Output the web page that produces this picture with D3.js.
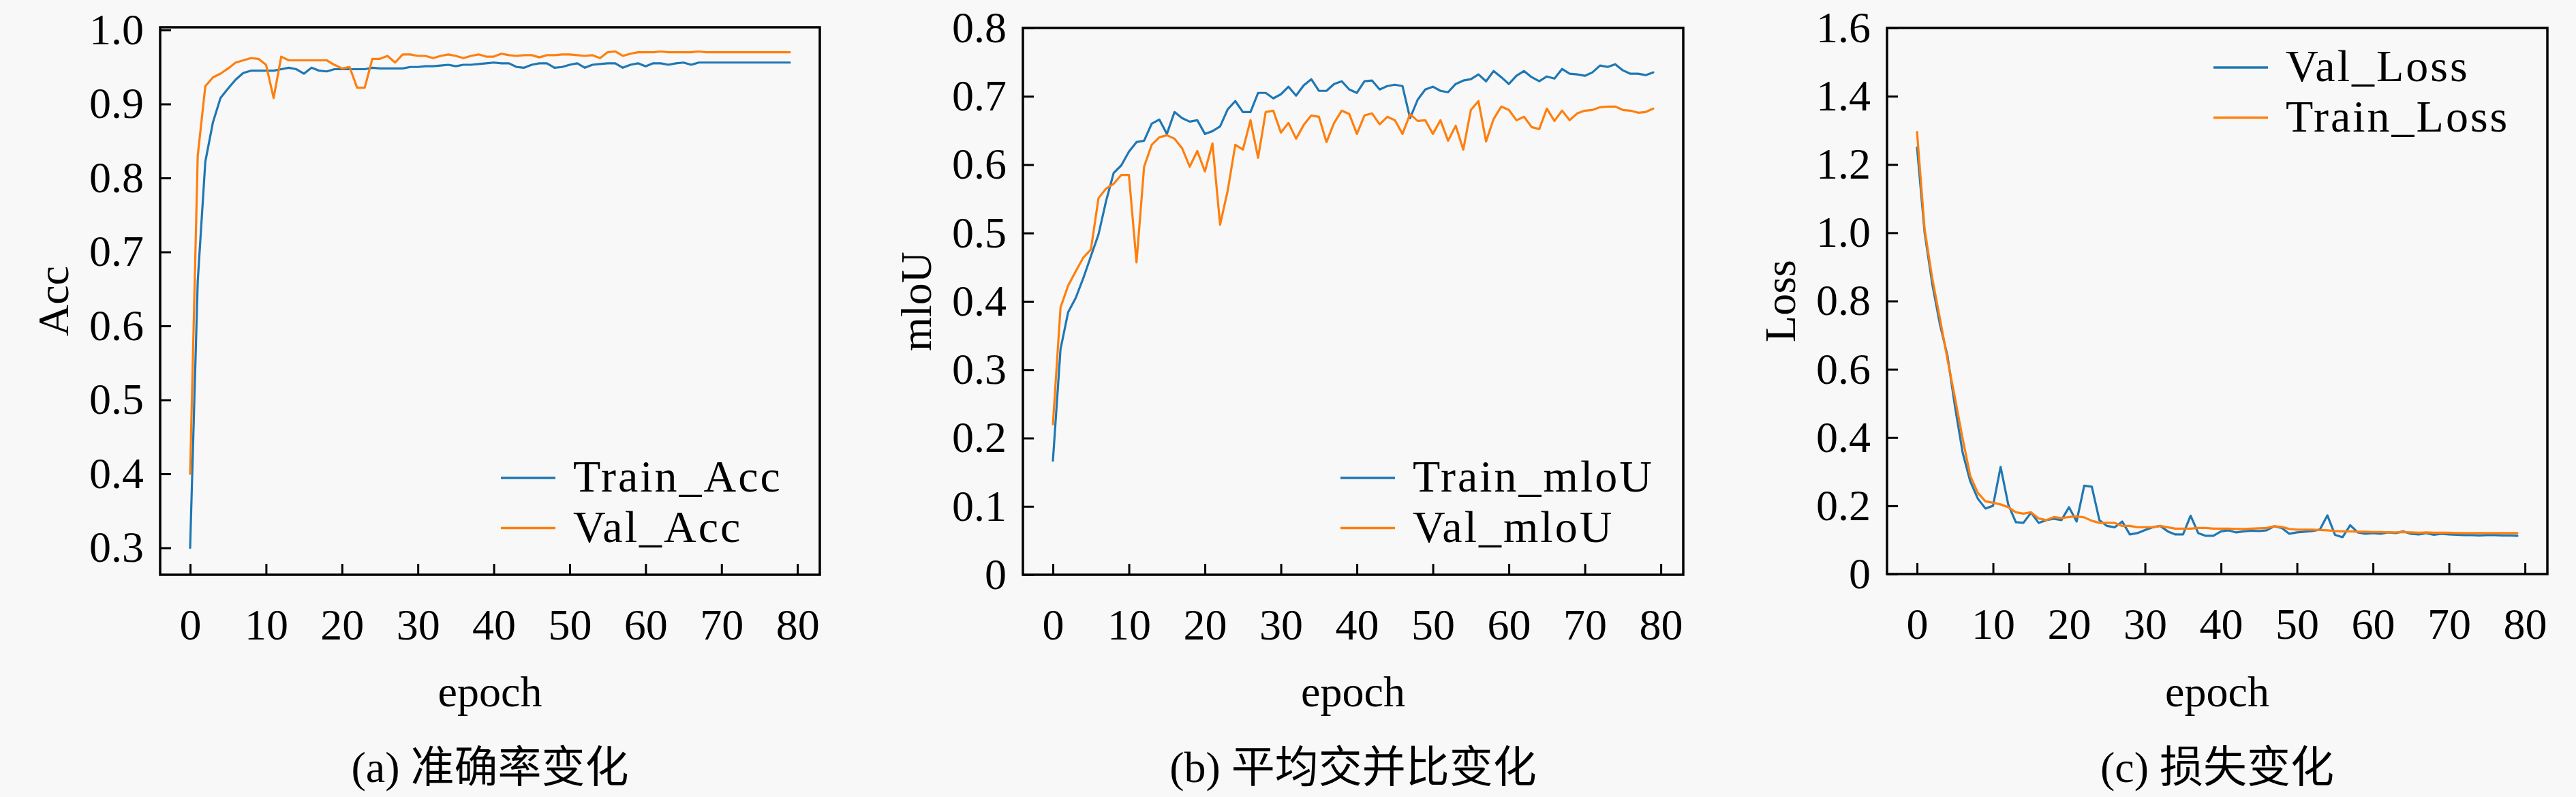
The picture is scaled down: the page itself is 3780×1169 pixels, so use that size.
<!DOCTYPE html>
<html>
<head>
<meta charset="utf-8">
<script src="https://cdn.jsdelivr.net/npm/d3@7"></script>
<style>
  body { margin: 0; background: #f8f8f8; }
  svg { display: block; background: #f8f8f8; }
  text { font-family: "Liberation Serif", "Noto Sans CJK SC", serif; fill: #000; }
</style>
</head>
<body>
<svg id="figure"></svg>
<script>
// epochs 0..79
const epochs = d3.range(0, 80);
const xTicks = [0, 10, 20, 30, 40, 50, 60, 70, 80];

const accTicks = [0.3, 0.4, 0.5, 0.6, 0.7, 0.8, 0.9, 1.0];
const miouTicks = [0, 0.1, 0.2, 0.3, 0.4, 0.5, 0.6, 0.7, 0.8];
const lossTicks = [0, 0.2, 0.4, 0.6, 0.8, 1.0, 1.2, 1.4, 1.6];

const trainAcc = [
  0.300, 0.660, 0.822, 0.875, 0.908, 0.921, 0.933, 0.942, 0.945, 0.945,
  0.945, 0.945, 0.947, 0.949, 0.947, 0.941, 0.949, 0.945, 0.944, 0.947,
  0.947, 0.947, 0.947, 0.947, 0.949, 0.948, 0.948, 0.948, 0.948, 0.950,
  0.950, 0.951, 0.951, 0.952, 0.953, 0.951, 0.953, 0.953, 0.954, 0.955,
  0.956, 0.955, 0.955, 0.950, 0.949, 0.953, 0.955, 0.955, 0.949, 0.950,
  0.953, 0.955, 0.949, 0.953, 0.954, 0.955, 0.955, 0.949, 0.953, 0.955,
  0.951, 0.955, 0.955, 0.953, 0.955, 0.956, 0.953, 0.956, 0.956, 0.956,
  0.956, 0.956, 0.956, 0.956, 0.956, 0.956, 0.956, 0.956, 0.956, 0.956
];
const valAcc = [
  0.400, 0.830, 0.924, 0.936, 0.941, 0.948, 0.956, 0.959, 0.962, 0.961,
  0.953, 0.908, 0.964, 0.959, 0.959, 0.959, 0.959, 0.959, 0.959, 0.953,
  0.948, 0.950, 0.922, 0.922, 0.961, 0.961, 0.965, 0.956, 0.967, 0.967,
  0.965, 0.965, 0.962, 0.965, 0.967, 0.965, 0.962, 0.965, 0.967, 0.964,
  0.964, 0.968, 0.966, 0.965, 0.966, 0.966, 0.963, 0.966, 0.966, 0.967,
  0.967, 0.966, 0.965, 0.966, 0.962, 0.970, 0.971, 0.965, 0.968, 0.970,
  0.970, 0.970, 0.971, 0.970, 0.970, 0.970, 0.970, 0.971, 0.970, 0.970,
  0.970, 0.970, 0.970, 0.970, 0.970, 0.970, 0.970, 0.970, 0.970, 0.970
];

const trainMiou = [
  0.167, 0.330, 0.384, 0.405, 0.434, 0.466, 0.498, 0.547, 0.588, 0.599,
  0.619, 0.633, 0.635, 0.660, 0.666, 0.645, 0.677, 0.668, 0.663, 0.665,
  0.645, 0.649, 0.656, 0.681, 0.693, 0.677, 0.677, 0.705, 0.705, 0.697,
  0.703, 0.714, 0.701, 0.716, 0.725, 0.708, 0.708, 0.718, 0.722, 0.710,
  0.705, 0.722, 0.723, 0.710, 0.715, 0.717, 0.715, 0.668, 0.695, 0.710,
  0.714, 0.708, 0.706, 0.718, 0.723, 0.725, 0.732, 0.722, 0.737, 0.728,
  0.718, 0.730, 0.737, 0.728, 0.722, 0.729, 0.726, 0.740, 0.733, 0.732,
  0.730, 0.735, 0.745, 0.743, 0.747, 0.738, 0.733, 0.733, 0.731, 0.735
];
const valMiou = [
  0.220, 0.391, 0.423, 0.444, 0.464, 0.476, 0.551, 0.565, 0.572, 0.585,
  0.585, 0.457, 0.597, 0.629, 0.640, 0.643, 0.638, 0.624, 0.597, 0.620,
  0.590, 0.631, 0.512, 0.562, 0.629, 0.622, 0.665, 0.610, 0.677, 0.679,
  0.647, 0.661, 0.638, 0.658, 0.672, 0.670, 0.633, 0.661, 0.679, 0.674,
  0.645, 0.672, 0.675, 0.659, 0.670, 0.665, 0.645, 0.674, 0.664, 0.665,
  0.645, 0.665, 0.635, 0.657, 0.622, 0.680, 0.693, 0.634, 0.667, 0.685,
  0.680, 0.665, 0.670, 0.655, 0.652, 0.682, 0.664, 0.679, 0.665, 0.675,
  0.679, 0.680, 0.684, 0.685, 0.685, 0.680, 0.679, 0.676, 0.677, 0.682
];

const valLoss = [
  1.250, 1.000, 0.850, 0.733, 0.640, 0.490, 0.356, 0.272, 0.221, 0.192,
  0.200, 0.314, 0.204, 0.152, 0.150, 0.180, 0.150, 0.158, 0.162, 0.158,
  0.196, 0.154, 0.259, 0.256, 0.158, 0.141, 0.137, 0.154, 0.116, 0.120,
  0.129, 0.137, 0.141, 0.125, 0.116, 0.116, 0.171, 0.120, 0.112, 0.112,
  0.125, 0.128, 0.122, 0.125, 0.127, 0.126, 0.128, 0.140, 0.135, 0.118,
  0.122, 0.124, 0.126, 0.130, 0.172, 0.115, 0.108, 0.143, 0.122, 0.118,
  0.120, 0.118, 0.122, 0.120, 0.125, 0.118, 0.116, 0.120, 0.115, 0.118,
  0.116, 0.115, 0.114, 0.114, 0.113, 0.114, 0.114, 0.113, 0.113, 0.112
];
const trainLoss = [
  1.295, 1.010, 0.867, 0.750, 0.630, 0.515, 0.397, 0.288, 0.238, 0.213,
  0.209, 0.204, 0.196, 0.181, 0.177, 0.181, 0.163, 0.158, 0.167, 0.164,
  0.167, 0.169, 0.166, 0.156, 0.150, 0.150, 0.150, 0.141, 0.141, 0.137,
  0.137, 0.137, 0.141, 0.137, 0.133, 0.133, 0.133, 0.135, 0.135, 0.133,
  0.133, 0.133, 0.132, 0.132, 0.133, 0.134, 0.135, 0.140, 0.138, 0.132,
  0.130, 0.130, 0.130, 0.129, 0.128, 0.126, 0.125, 0.125, 0.124, 0.124,
  0.123, 0.123, 0.122, 0.122, 0.123, 0.122, 0.121, 0.122, 0.121, 0.121,
  0.121, 0.120, 0.120, 0.120, 0.120, 0.120, 0.120, 0.120, 0.120, 0.120
];

const BLUE = '#1f77b4';
const ORANGE = '#ff7f0e';

const svg = d3.select('#figure')
  .attr('width', 3780)
  .attr('height', 1169);

class LineChart {

  constructor(_config, _series) {
    this.config = {
      left: _config.left,
      top: _config.top,
      width: _config.width,
      height: _config.height,
      yDomain: _config.yDomain,
      yTicks: _config.yTicks,
      yLabel: _config.yLabel,
      caption: _config.caption,
      legend: _config.legend
    };
    this.series = _series;
    this.initVis();
  }

  initVis() {
    let vis = this;
    const c = vis.config;

    vis.chartArea = svg.append('g')
      .attr('transform', `translate(${c.left},${c.top})`);

    // Scales (x gets matplotlib's 5% margin around 0..79)
    vis.xScale = d3.scaleLinear()
      .domain([-3.95, 82.95])
      .range([0, c.width]);

    vis.yScale = d3.scaleLinear()
      .domain(c.yDomain)
      .range([c.height, 0]);

    // Axes with inward ticks
    vis.xAxis = d3.axisBottom(vis.xScale)
      .tickValues(xTicks)
      .tickSizeInner(-16)
      .tickSizeOuter(0)
      .tickPadding(50);

    vis.yAxis = d3.axisLeft(vis.yScale)
      .tickValues(c.yTicks)
      .tickFormat(d => d === 0 ? '0' : d3.format('.1f')(d))
      .tickSizeInner(-16)
      .tickSizeOuter(0)
      .tickPadding(24);

    vis.xAxisG = vis.chartArea.append('g')
      .attr('class', 'axis x-axis')
      .attr('transform', `translate(0,${c.height})`);

    vis.yAxisG = vis.chartArea.append('g')
      .attr('class', 'axis y-axis');

    // Axis titles
    vis.chartArea.append('text')
      .attr('transform', `translate(-157,${c.height / 2}) rotate(-90)`)
      .attr('text-anchor', 'middle')
      .attr('dominant-baseline', 'central')
      .style('font-size', '64px')
      .text(c.yLabel);

    vis.chartArea.append('text')
      .attr('x', c.width / 2)
      .attr('y', 1036 - c.top)
      .attr('text-anchor', 'middle')
      .style('font-size', '64px')
      .text('epoch');

    // Sub-figure caption
    vis.chartArea.append('text')
      .attr('x', c.width / 2)
      .attr('y', 1147 - c.top)
      .attr('text-anchor', 'middle')
      .style('font-size', '64px')
      .text(c.caption);

    vis.line = d3.line()
      .x((d, i) => vis.xScale(epochs[i]))
      .y(d => vis.yScale(d));

    vis.renderVis();
  }

  renderVis() {
    let vis = this;
    const c = vis.config;

    vis.xAxisG.call(vis.xAxis);
    vis.yAxisG.call(vis.yAxis);

    vis.chartArea.selectAll('.axis')
      .attr('font-size', 64)
      .attr('font-family', null);
    vis.chartArea.selectAll('.axis .domain').remove();
    vis.chartArea.selectAll('.axis line')
      .attr('stroke', '#000')
      .attr('stroke-width', 3);

    // Series lines
    vis.chartArea.selectAll('.series')
      .data(vis.series)
      .join('path')
      .attr('class', 'series')
      .attr('fill', 'none')
      .attr('stroke', d => d.color)
      .attr('stroke-width', 3.2)
      .attr('stroke-linejoin', 'round')
      .attr('stroke-linecap', 'round')
      .attr('d', d => vis.line(d.values));

    // Frame
    vis.chartArea.append('rect')
      .attr('width', c.width)
      .attr('height', c.height)
      .attr('fill', 'none')
      .attr('stroke', '#000')
      .attr('stroke-width', 3.5);

    // Legend
    const legend = vis.chartArea.append('g')
      .attr('transform', `translate(${c.legend.x},${c.legend.y})`);

    const items = legend.selectAll('.legend-item')
      .data(vis.series)
      .join('g')
      .attr('class', 'legend-item')
      .attr('transform', (d, i) => `translate(0,${i * 73.5})`);

    items.append('line')
      .attr('x1', 0)
      .attr('x2', 80)
      .attr('stroke', d => d.color)
      .attr('stroke-width', 3.5);

    items.append('text')
      .attr('x', 106)
      .attr('y', 20)
      .style('font-size', '66px')
      .style('letter-spacing', '3px')
      .text(d => d.name);
  }
}

new LineChart({
  left: 235, top: 40, width: 968, height: 803,
  yDomain: [0.2636, 1.0037],
  yTicks: accTicks,
  yLabel: 'Acc',
  caption: '(a) 准确率变化',
  legend: { x: 500, y: 661 }
}, [
  { name: 'Train_Acc', values: trainAcc, color: BLUE },
  { name: 'Val_Acc', values: valAcc, color: ORANGE }
]);

new LineChart({
  left: 1501, top: 41, width: 969, height: 802,
  yDomain: [0, 0.8],
  yTicks: miouTicks,
  yLabel: 'mloU',
  caption: '(b) 平均交并比变化',
  legend: { x: 466, y: 660 }
}, [
  { name: 'Train_mloU', values: trainMiou, color: BLUE },
  { name: 'Val_mloU', values: valMiou, color: ORANGE }
]);

new LineChart({
  left: 2769, top: 41, width: 969, height: 801,
  yDomain: [0, 1.6],
  yTicks: lossTicks,
  yLabel: 'Loss',
  caption: '(c) 损失变化',
  legend: { x: 479, y: 58 }
}, [
  { name: 'Val_Loss', values: valLoss, color: BLUE },
  { name: 'Train_Loss', values: trainLoss, color: ORANGE }
]);
</script>
</body>
</html>
